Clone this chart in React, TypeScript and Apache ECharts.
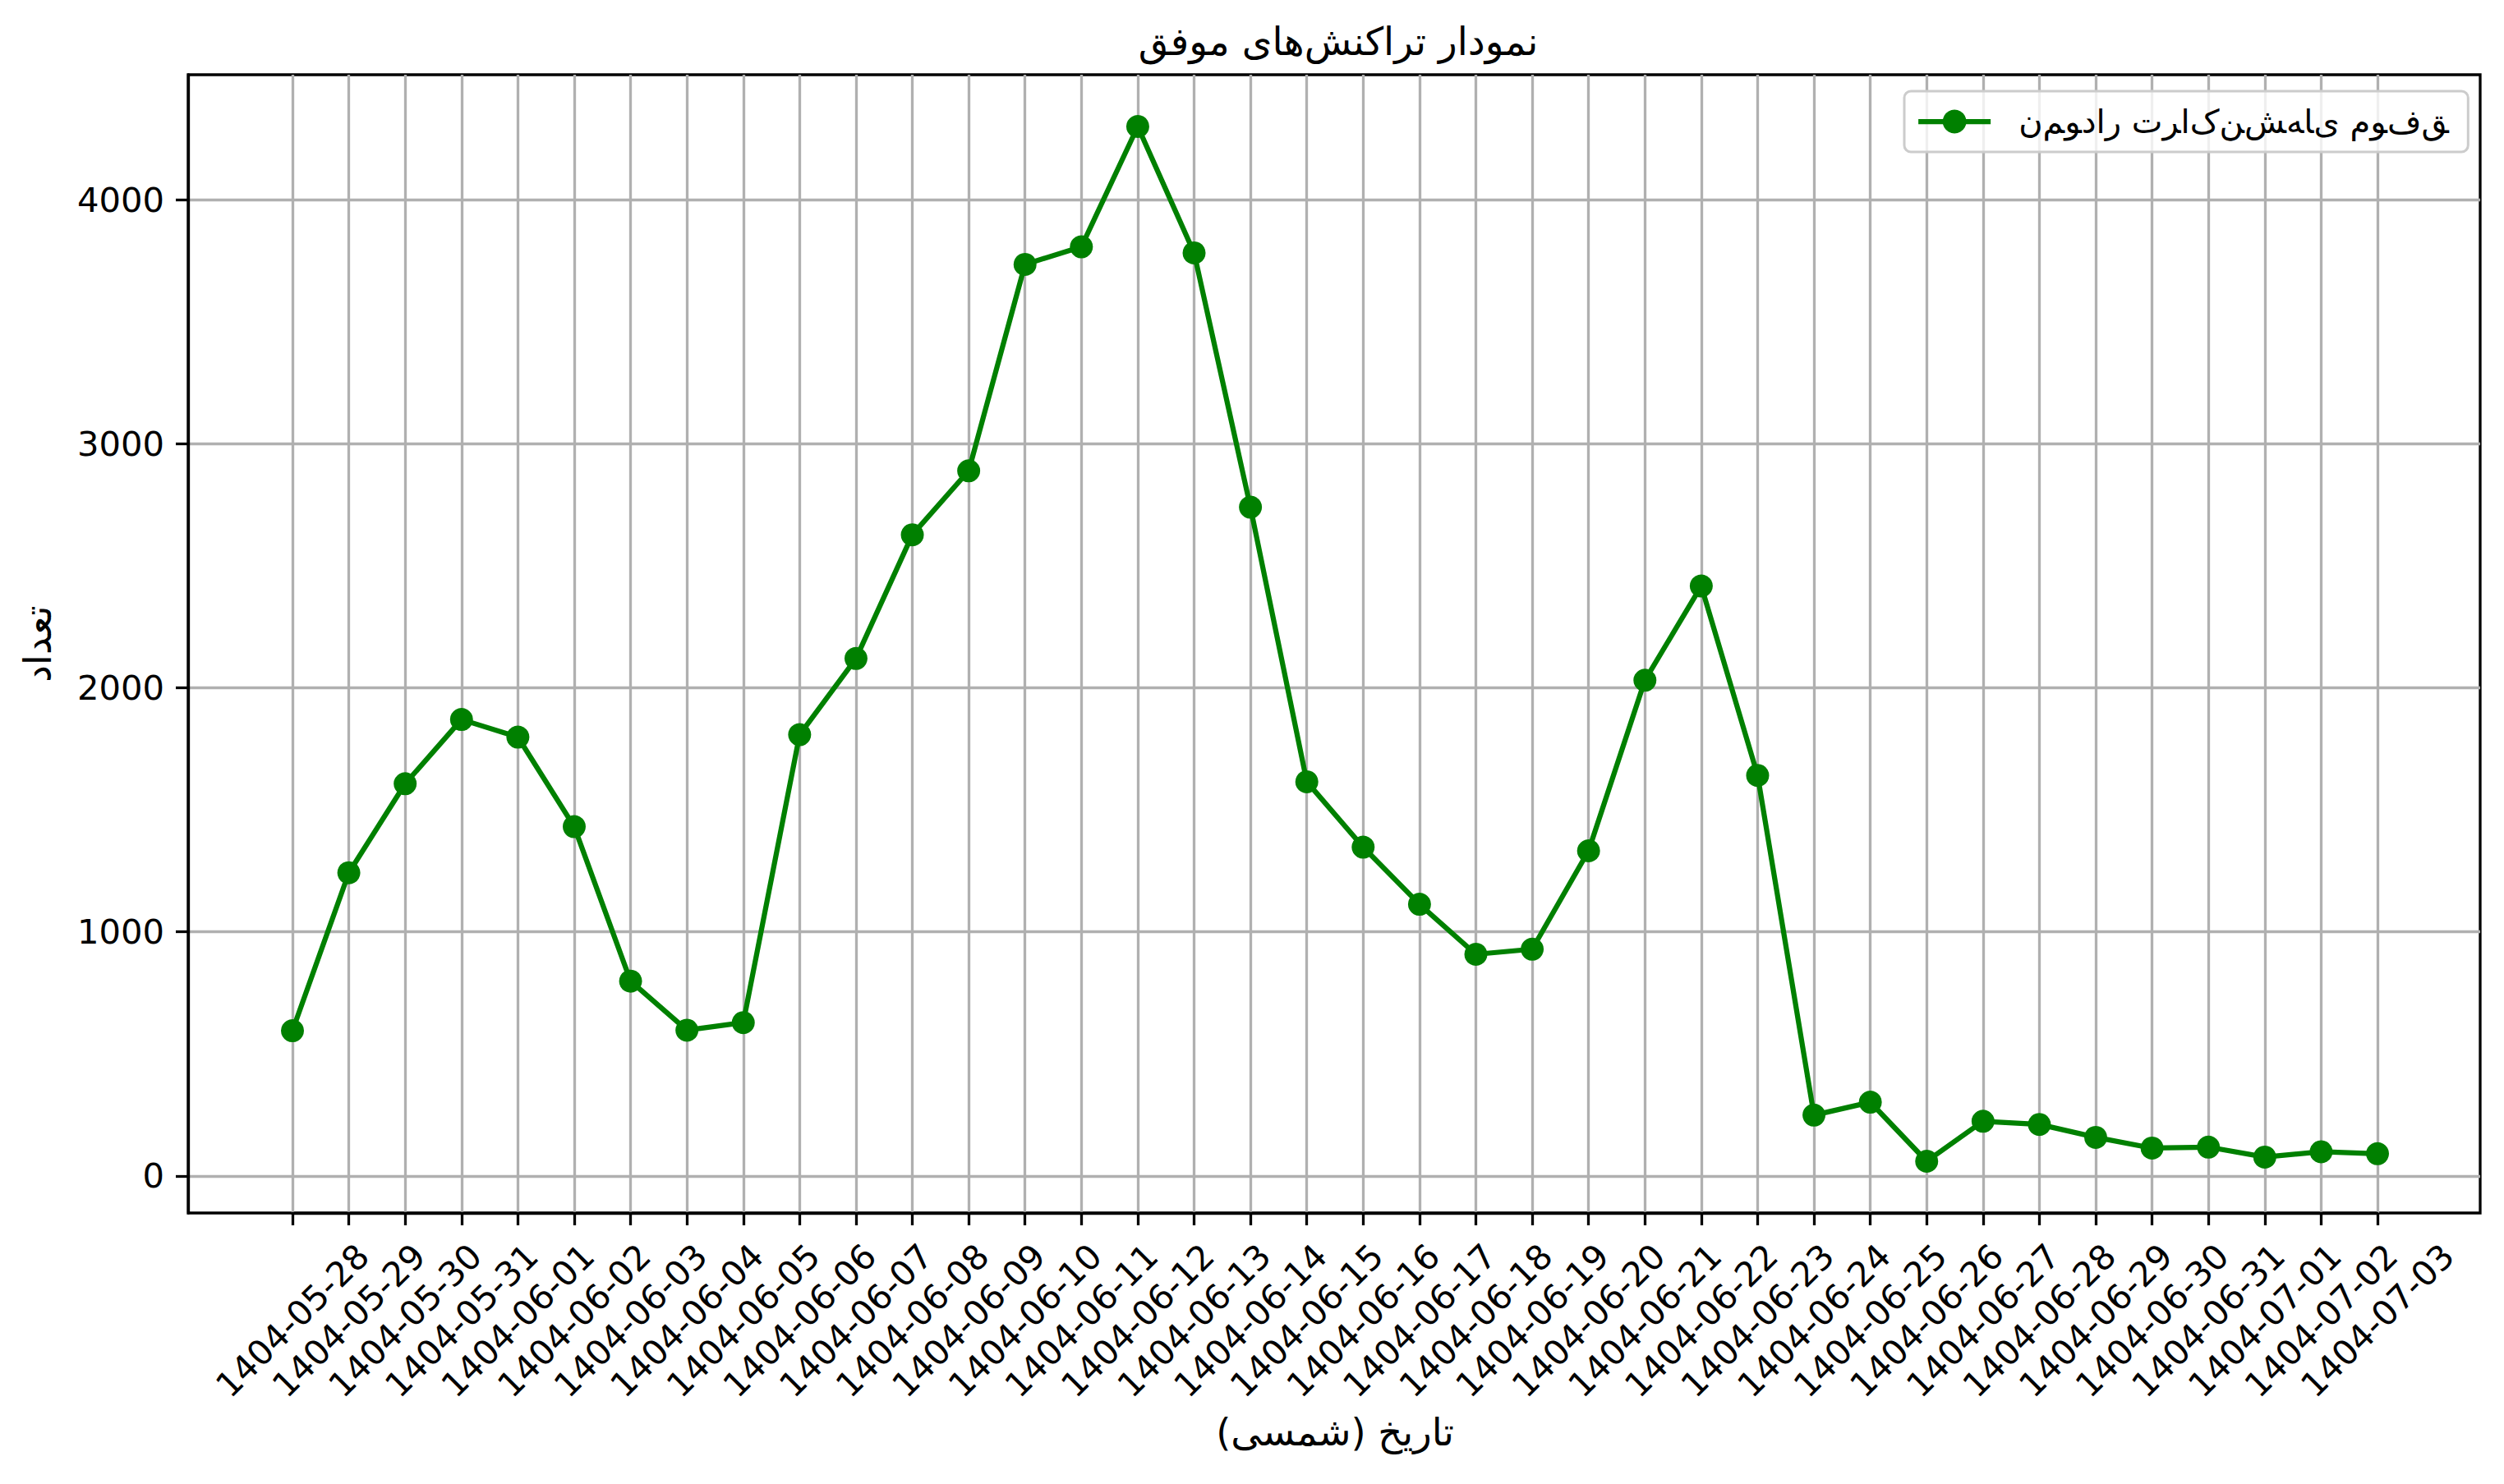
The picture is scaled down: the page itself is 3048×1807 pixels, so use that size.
import React, { useEffect, useRef } from "react";
import * as echarts from "echarts";

const dates = [
  "1404-05-28", "1404-05-29", "1404-05-30", "1404-05-31",
  "1404-06-01", "1404-06-02", "1404-06-03", "1404-06-04", "1404-06-05",
  "1404-06-06", "1404-06-07", "1404-06-08", "1404-06-09", "1404-06-10",
  "1404-06-11", "1404-06-12", "1404-06-13", "1404-06-14", "1404-06-15",
  "1404-06-16", "1404-06-17", "1404-06-18", "1404-06-19", "1404-06-20",
  "1404-06-21", "1404-06-22", "1404-06-23", "1404-06-24", "1404-06-25",
  "1404-06-26", "1404-06-27", "1404-06-28", "1404-06-29", "1404-06-30",
  "1404-06-31", "1404-07-01", "1404-07-02", "1404-07-03",
];

const counts = [
  595, 1242, 1607, 1870, 1798, 1431, 798, 597, 628, 1808,
  2120, 2627, 2889, 3735, 3807, 4300, 3782, 2740, 1615, 1347,
  1113, 908, 929, 1332, 2031, 2417, 1641, 249, 302, 60,
  224, 211, 158, 114, 118, 77, 99, 91,
];

const yTicks = [0, 1000, 2000, 3000, 4000];
const yMin = -152;
const yMax = 4512;

const titleText = "نمودار تراکنش‌های موفق";
// legend label as drawn in the reference: unshaped letters laid out left to right
const legendLabel = "نمودار تراکنشهای موفق";
const xName = "تاریخ (شمسی)";
const yName = "تعداد";

const FONT = "DejaVu Sans";

// force left-to-right order and isolated letter forms (as in the reference legend)
const ltrIsolated = (s: string) =>
  "\u202D" +
  s
    .split(" ")
    .map((w) => Array.from(w).join("\u200C"))
    .join(" ") +
  "\u202C";

export default function App() {
  const ref = useRef<HTMLDivElement>(null);

  useEffect(() => {
    document.body.style.margin = "0";
    if (!ref.current) return;
    const chart = echarts.init(ref.current, undefined, { renderer: "svg" });
    const legendText = ltrIsolated(legendLabel);

    const option: any = {
      animation: false,
      backgroundColor: "#ffffff",
      textStyle: { fontFamily: FONT },
      title: {
        text: titleText,
        left: 1624,
        textAlign: "center",
        top: 22,
        textStyle: { fontFamily: FONT, fontSize: 47, fontWeight: "normal", color: "#000" },
      },
      legend: {
        data: [legendText],
        left: 2318,
        top: 111,
        itemWidth: 88,
        itemHeight: 36,
        padding: [17, 38, 17, 14],
        backgroundColor: "rgba(255,255,255,0.8)",
        borderColor: "#cccccc",
        borderWidth: 3,
        borderRadius: 8,
        lineStyle: { width: 6.25, color: "#008000" },
        textStyle: { fontFamily: FONT, fontSize: 40, color: "#000", padding: [0, 0, 0, 29] },
      },
      grid: [
        {
          left: 229, top: 91, width: 2790, height: 1386,
          show: true, borderColor: "#000", borderWidth: 3.3, backgroundColor: "transparent",
          containLabel: false,
        },
        {
          left: 356, top: 91, width: 2538, height: 1386,
          containLabel: false,
        },
      ],
      xAxis: [
        { type: "value", gridIndex: 0, min: 0, max: 1, show: false },
        {
          type: "category",
          gridIndex: 1,
          data: dates,
          boundaryGap: false,
          name: xName,
          nameLocation: "middle",
          nameGap: 243,
          nameTextStyle: { fontFamily: FONT, fontSize: 46.5, color: "#000" },
          axisLine: { show: true, onZero: false, lineStyle: { color: "#000", width: 3.3 } },
          axisTick: { show: true, interval: 0, length: 15, lineStyle: { color: "#000", width: 3.3 } },
          axisLabel: {
            interval: 0, rotate: 45, align: "center", verticalAlign: "middle",
            margin: 131, fontFamily: FONT, fontSize: 41.7, color: "#000",
          },
          splitLine: { show: true, interval: 0, lineStyle: { color: "#b0b0b0", width: 3.3 } },
        },
      ],
      yAxis: [
        {
          type: "value",
          gridIndex: 0,
          min: yMin,
          max: yMax,
          name: yName,
          nameLocation: "middle",
          nameRotate: 90,
          nameGap: 160,
          nameTextStyle: { fontFamily: FONT, fontSize: 46.5, color: "#000" },
          axisLine: { show: true, onZero: false, lineStyle: { color: "#000", width: 3.3 } },
          axisTick: { show: true, customValues: yTicks, length: 15, lineStyle: { color: "#000", width: 3.3 } },
          axisLabel: {
            customValues: yTicks,
            formatter: (v: number) => String(v),
            margin: 29, fontFamily: FONT, fontSize: 41.7, color: "#000",
          },
          splitLine: { show: true, lineStyle: { color: "#b0b0b0", width: 3.3 } },
        },
        { type: "value", gridIndex: 1, min: yMin, max: yMax, show: false },
      ],
      series: [
        {
          name: legendText,
          type: "line",
          xAxisIndex: 1,
          yAxisIndex: 1,
          data: counts,
          symbol: "circle",
          symbolSize: 28,
          showSymbol: true,
          color: "#008000",
          lineStyle: { color: "#008000", width: 6.25 },
          itemStyle: { color: "#008000" },
          z: 5,
        },
      ],
    };

    chart.setOption(option);
    return () => chart.dispose();
  }, []);

  return <div ref={ref} style={{ width: 3048, height: 1807 }} />;
}
